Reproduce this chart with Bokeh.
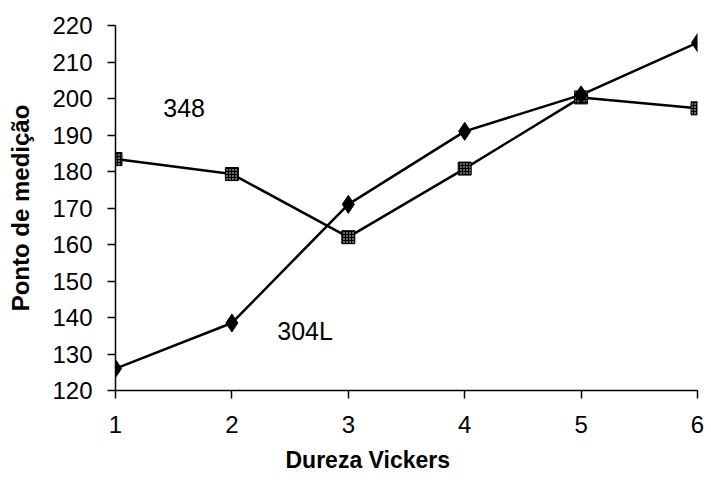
from bokeh.plotting import figure
from bokeh.models import ColumnDataSource, FixedTicker, Range1d, Title
from bokeh.core.properties import value
from bokeh.embed import file_html
from bokeh.resources import INLINE

x_points = [1, 2, 3, 4, 5, 6]
s304L = [126, 138.5, 171, 191, 201, 215.3]
s348 = [183.4, 179.3, 162, 180.8, 200.3, 197.3]
y_ticks = [120, 130, 140, 150, 160, 170, 180, 190, 200, 210, 220]
x_ticks = [1, 2, 3, 4, 5, 6]

FONT = "Liberation Sans"

p = figure(width=711, height=482, output_backend="svg", toolbar_location=None,
           x_range=Range1d(1, 6), y_range=Range1d(120, 220))
p.min_border_left = 115
p.min_border_right = 14
p.min_border_top = 25
p.min_border_bottom = 92
p.outline_line_color = None
p.xgrid.visible = False
p.ygrid.visible = False
p.background_fill_color = "white"
p.border_fill_color = "white"

src304 = ColumnDataSource(dict(x=x_points, y=s304L))
src348 = ColumnDataSource(dict(x=x_points, y=s348))

p.line("x", "y", source=src348, line_color="black", line_width=2.5)
p.line("x", "y", source=src304, line_color="black", line_width=2.5)
p.scatter("x", "y", source=src348, marker="square", size=13, fill_color="black",
          line_color="black", hatch_pattern="dot", hatch_color="white", hatch_scale=3)
p.scatter("x", "y", source=src304, marker="diamond", size=18, fill_color="black",
          line_color="black")

p.text(x=[1.41], y=[197.3], text=["348"], text_font=value(FONT), text_font_size="25px",
       text_baseline="middle", text_align="left", text_color="black")
p.text(x=[2.39], y=[136.2], text=["304L"], text_font=value(FONT), text_font_size="25px",
       text_baseline="middle", text_align="left", text_color="black")

p.xaxis.ticker = FixedTicker(ticks=x_ticks)
p.yaxis.ticker = FixedTicker(ticks=y_ticks)
for ax in (p.xaxis[0], p.yaxis[0]):
    ax.axis_line_color = "black"
    ax.axis_line_width = 1.5
    ax.major_tick_line_color = "black"
    ax.major_tick_line_width = 1.5
    ax.minor_tick_line_color = None
    ax.major_tick_in = 0
    ax.major_label_text_font = FONT
    ax.major_label_text_font_size = "24px"
    ax.major_label_text_color = "black"
    ax.axis_label_text_font = FONT
    ax.axis_label_text_font_size = "24px"
    ax.axis_label_text_font_style = "bold"
    ax.axis_label_text_color = "black"

p.xaxis.major_tick_out = 8
p.xaxis.major_label_standoff = 17
p.yaxis.major_tick_out = 8
p.yaxis.major_label_standoff = 15
p.yaxis.axis_label = "Ponto de medição"
p.yaxis.axis_label_standoff = 15

xtitle = Title(text="Dureza Vickers", align="left", offset=170, vertical_align="bottom",
               text_font=FONT, text_font_size="23px", text_font_style="bold",
               text_color="black", standoff=18)
p.add_layout(xtitle, "below")

open("out.html", "w").write(file_html(p, INLINE))
